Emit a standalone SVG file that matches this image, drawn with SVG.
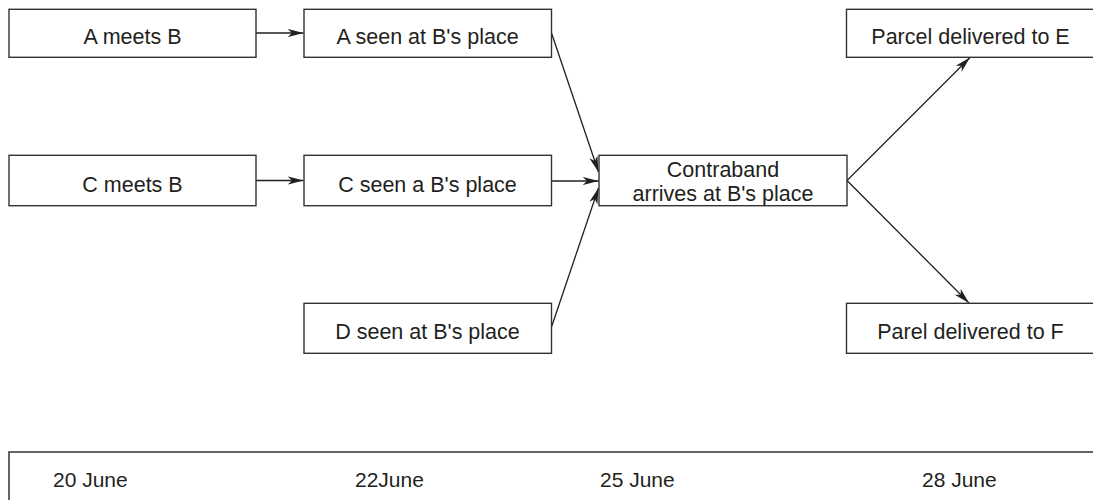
<svg xmlns="http://www.w3.org/2000/svg" width="1093" height="500" viewBox="0 0 1093 500">
<style>
.box{fill:#fff;stroke:#333;stroke-width:1.4}
.t{font-family:"Liberation Sans",Arial,sans-serif;font-size:21.5px;fill:#231f20;text-anchor:middle}
.d{font-family:"Liberation Sans",Arial,sans-serif;font-size:21px;fill:#231f20}
.c{fill:none;stroke:#231f20;stroke-width:1.3;marker-end:url(#ah)}
.axis{fill:none;stroke:#333;stroke-width:1.5}
</style>
<defs>
<marker id="ah" markerUnits="userSpaceOnUse" markerWidth="17" markerHeight="10" viewBox="0 0 17 10" refX="16" refY="5" orient="auto">
<path d="M0,0.8 L16,5 L0,9.2 L4.5,5 Z" fill="#231f20"/>
</marker>
</defs>
<rect width="1093" height="500" fill="#fff"/>
<g id="connectors">
<line class="c" x1="256" y1="33" x2="303.5" y2="33"/>
<line class="c" x1="256" y1="180.5" x2="303.5" y2="180.5"/>
<line class="c" x1="551.5" y1="33" x2="598.5" y2="172"/>
<line class="c" x1="551.5" y1="181" x2="598.5" y2="181"/>
<line class="c" x1="551.5" y1="327" x2="598.5" y2="188"/>
<line class="c" x1="847" y1="180.5" x2="970" y2="57.5"/>
<line class="c" x1="847" y1="180.5" x2="969" y2="303"/>
</g>
<g id="a_meets_b"><rect class="box" x="9" y="9.3" width="247" height="48"/><text class="t" x="132.5" y="44">A meets B</text></g>
<g id="a_seen"><rect class="box" x="304" y="9.3" width="247.5" height="48"/><text class="t" x="427.5" y="44">A seen at B's place</text></g>
<g id="c_meets_b"><rect class="box" x="9" y="155.3" width="247" height="50.4"/><text class="t" x="132.5" y="191.5">C meets B</text></g>
<g id="c_seen"><rect class="box" x="304" y="155.3" width="247.5" height="50.4"/><text class="t" x="427.5" y="191.5">C seen a B's place</text></g>
<g id="d_seen"><rect class="box" x="304" y="303.3" width="247.5" height="50"/><text class="t" x="427.5" y="339">D seen at B's place</text></g>
<g id="contraband"><rect class="box" x="599" y="155.3" width="248" height="50.4"/><text class="t" x="723" y="177.3">Contraband</text><text class="t" x="723" y="201.3">arrives at B's place</text></g>
<g id="parcel_e"><rect class="box" x="846.5" y="9.3" width="250" height="48"/><text class="t" x="970.5" y="44">Parcel delivered to E</text></g>
<g id="parcel_f"><rect class="box" x="846.5" y="303.3" width="250" height="50"/><text class="t" x="970.5" y="338.5">Parel delivered to F</text></g>
<g id="timeline">
<path class="axis" d="M9,501 V452 H1094"/>
<text class="d" x="53" y="487">20 June</text>
<text class="d" x="355" y="487">22June</text>
<text class="d" x="600" y="487">25 June</text>
<text class="d" x="922" y="487">28 June</text>
</g>
</svg>
